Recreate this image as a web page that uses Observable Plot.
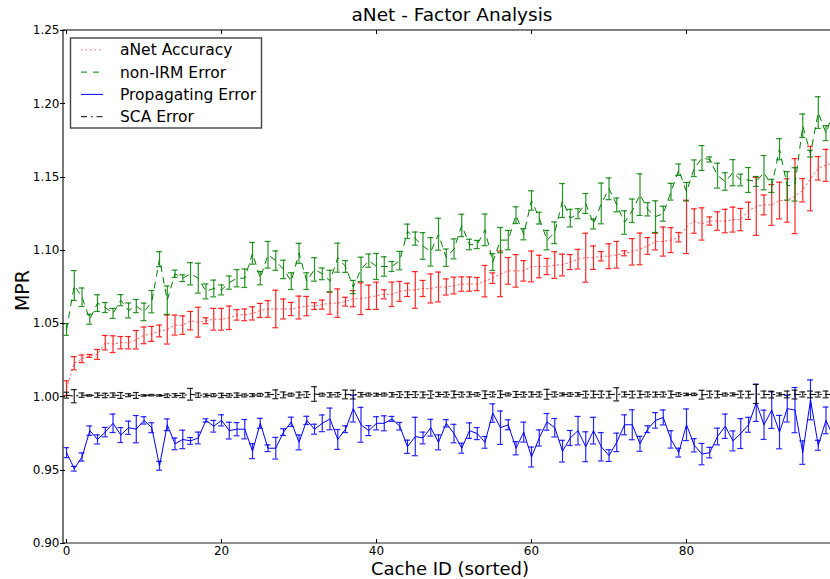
<!DOCTYPE html>
<html>
<head>
<meta charset="utf-8">
<script src="https://cdn.jsdelivr.net/npm/d3@7"></script>
<script src="https://cdn.jsdelivr.net/npm/@observablehq/plot@0.6"></script>
<style>
  html, body { margin: 0; padding: 0; background: white; }
  #chart { width: 830px; height: 579px; }
</style>
</head>
<body>
<div id="chart"></div>
<script>
// ---- data ----
const cacheIds = d3.range(100);

const aNetAccuracy = [1.006,1.023,1.026,1.028,1.029,1.037,1.036,1.037,1.037,1.039,
  1.042,1.043,1.045,1.046,1.049,1.049,1.052,1.051,1.052,1.053,
  1.053,1.054,1.056,1.056,1.057,1.059,1.060,1.060,1.060,1.060,
  1.061,1.062,1.062,1.063,1.064,1.064,1.065,1.067,1.067,1.068,
  1.069,1.070,1.070,1.072,1.073,1.073,1.074,1.074,1.075,1.075,
  1.076,1.077,1.077,1.077,1.079,1.081,1.084,1.086,1.086,1.086,
  1.089,1.089,1.089,1.090,1.090,1.092,1.094,1.095,1.095,1.096,
  1.096,1.097,1.098,1.099,1.101,1.103,1.106,1.106,1.107,1.109,
  1.116,1.120,1.118,1.120,1.120,1.120,1.121,1.121,1.127,1.130,
  1.131,1.131,1.134,1.134,1.137,1.141,1.149,1.156,1.158,1.160];
const aNetErr = [0.005,0.0045,0.0026,0.001,0.0034,0.0049,0.0057,0.0042,0.0042,0.0063,
  0.0057,0.0051,0.004,0.0099,0.0068,0.0063,0.0063,0.0102,0.002,0.0074,
  0.0074,0.008,0.0036,0.004,0.0045,0.0048,0.0057,0.0128,0.0068,0.0045,
  0.0078,0.0066,0.0023,0.0031,0.0076,0.0097,0.003,0.0055,0.0108,0.0083,
  0.0093,0.0031,0.0083,0.0068,0.0045,0.0125,0.0055,0.0099,0.0102,0.0055,
  0.0057,0.0049,0.0049,0.0045,0.0107,0.0036,0.0156,0.0091,0.0111,0.007,
  0.0105,0.0077,0.0055,0.0091,0.0074,0.0051,0.0067,0.0167,0.008,0.0032,
  0.0085,0.0091,0.0017,0.009,0.0108,0.0057,0.0057,0.0099,0.0085,0.0032,
  0.0182,0.0083,0.011,0.0028,0.0063,0.008,0.0085,0.0076,0.0059,0.0198,
  0.0068,0.0139,0.0125,0.0148,0.0256,0.008,0.022,0.008,0.0109,0.008];

const nonIrmError = [1.046,1.076,1.068,1.053,1.064,1.061,1.057,1.066,1.059,1.062,
  1.058,1.065,1.094,1.066,1.084,1.081,1.084,1.081,1.072,1.074,
  1.073,1.078,1.081,1.081,1.098,1.081,1.097,1.093,1.087,1.079,
  1.098,1.079,1.087,1.084,1.079,1.095,1.089,1.075,1.087,1.093,
  1.089,1.089,1.089,1.093,1.113,1.108,1.103,1.099,1.111,1.095,
  1.101,1.117,1.104,1.104,1.114,1.092,1.107,1.107,1.124,1.111,
  1.134,1.122,1.107,1.112,1.134,1.122,1.125,1.132,1.118,1.132,
  1.142,1.131,1.119,1.127,1.138,1.128,1.123,1.125,1.140,1.155,
  1.140,1.156,1.163,1.162,1.151,1.147,1.153,1.148,1.148,1.147,
  1.153,1.144,1.169,1.144,1.145,1.185,1.166,1.194,1.180,1.195];
const nonIrmErr = [0.004,0.0102,0.0063,0.0034,0.0057,0.0034,0.0034,0.0038,0.0051,0.0045,
  0.006,0.0076,0.0051,0.0097,0.0025,0.0023,0.0076,0.0102,0.0051,0.0057,
  0.0034,0.0045,0.0059,0.0063,0.0074,0.0045,0.0091,0.0066,0.0063,0.0057,
  0.0068,0.0057,0.008,0.004,0.0074,0.0099,0.004,0.0045,0.0083,0.0045,
  0.0089,0.0066,0.0034,0.0063,0.0049,0.0045,0.0091,0.0097,0.0109,0.0059,
  0.0068,0.0076,0.0036,0.0028,0.0108,0.0057,0.0086,0.0066,0.0057,0.0038,
  0.0066,0.004,0.0066,0.0074,0.0116,0.006,0.0034,0.0068,0.0034,0.0139,
  0.0074,0.0047,0.008,0.008,0.0142,0.0045,0.0108,0.0051,0.0057,0.0039,
  0.0063,0.0057,0.0085,0.0017,0.0085,0.006,0.0089,0.004,0.0085,0.0034,
  0.0117,0.0045,0.0072,0.0097,0.0114,0.008,0.0023,0.0108,0.0051,0.008];

const propagatingError = [0.962,0.951,0.959,0.977,0.971,0.976,0.982,0.974,0.979,0.978,
  0.984,0.979,0.953,0.981,0.968,0.971,0.970,0.972,0.984,0.980,
  0.984,0.977,0.978,0.978,0.963,0.982,0.965,0.965,0.976,0.983,
  0.969,0.984,0.978,0.982,0.985,0.971,0.978,0.992,0.981,0.977,
  0.982,0.982,0.985,0.980,0.966,0.973,0.972,0.979,0.969,0.982,
  0.975,0.965,0.977,0.975,0.969,0.989,0.979,0.981,0.965,0.976,
  0.959,0.972,0.983,0.979,0.963,0.972,0.977,0.966,0.977,0.966,
  0.960,0.969,0.981,0.981,0.968,0.978,0.984,0.986,0.971,0.962,
  0.981,0.967,0.961,0.962,0.973,0.980,0.970,0.975,0.981,0.996,
  0.981,0.991,0.976,0.992,0.991,0.962,0.998,0.967,0.984,0.972];
const propagatingErr = [0.0034,0.0016,0.0028,0.0032,0.0031,0.0032,0.0063,0.0051,0.0045,0.0093,
  0.0025,0.0034,0.003,0.004,0.004,0.0063,0.0023,0.004,0.0011,0.004,
  0.0038,0.0057,0.0045,0.0066,0.0051,0.0034,0.0023,0.0074,0.0023,0.0032,
  0.0051,0.0028,0.0034,0.0057,0.0074,0.0068,0.0023,0.0091,0.0119,0.0034,
  0.0045,0.0051,0.0017,0.0026,0.0045,0.0131,0.004,0.0057,0.0051,0.0025,
  0.0063,0.0034,0.0053,0.0041,0.004,0.0063,0.0114,0.0034,0.0045,0.0068,
  0.0068,0.0055,0.0057,0.0063,0.0074,0.0051,0.0097,0.0102,0.0091,0.0097,
  0.004,0.0063,0.0068,0.0102,0.0051,0.0023,0.0053,0.0051,0.0059,0.003,
  0.0108,0.0045,0.0073,0.0036,0.0057,0.0083,0.0068,0.0102,0.0051,0.0127,
  0.01,0.0125,0.0114,0.0091,0.0154,0.008,0.0136,0.0034,0.0091,0.006];

const scaError = [1.0012,1.0005,1.0012,1.0010,1.0012,1.0010,1.0012,1.0010,1.0012,1.0010,
  1.0010,1.0012,1.0010,1.0008,1.0010,1.0010,1.0018,1.0012,1.0010,1.0012,
  1.0010,1.0010,1.0012,1.0010,1.0012,1.0014,1.0015,1.0018,1.0014,1.0015,
  1.0013,1.0016,1.0020,1.0015,1.0014,1.0015,1.0017,1.0016,1.0015,1.0016,
  1.0015,1.0016,1.0015,1.0016,1.0015,1.0016,1.0014,1.0016,1.0017,1.0016,
  1.0017,1.0016,1.0017,1.0017,1.0015,1.0017,1.0018,1.0017,1.0017,1.0016,
  1.0017,1.0017,1.0018,1.0017,1.0017,1.0016,1.0017,1.0016,1.0017,1.0017,
  1.0016,1.0018,1.0017,1.0016,1.0017,1.0017,1.0016,1.0017,1.0017,1.0016,
  1.0017,1.0017,1.0015,1.0017,1.0017,1.0016,1.0017,1.0017,1.0016,1.0020,
  1.0017,1.0016,1.0017,1.0017,1.0016,1.0017,1.0017,1.0016,1.0017,1.0017];
const scaErr = [0.002,0.0045,0.0015,0.0005,0.0015,0.0015,0.0015,0.002,0.001,0.002,
  0.0005,0.0005,0.0005,0.0012,0.0012,0.0015,0.004,0.0015,0.001,0.001,
  0.0015,0.0012,0.0015,0.001,0.001,0.001,0.0015,0.003,0.002,0.001,
  0.002,0.002,0.005,0.001,0.0015,0.0015,0.003,0.003,0.0015,0.001,
  0.001,0.001,0.0015,0.002,0.002,0.002,0.002,0.0025,0.0015,0.0017,
  0.0023,0.0017,0.0017,0.0012,0.0026,0.0017,0.0023,0.001,0.002,0.0017,
  0.0017,0.0017,0.0034,0.0017,0.001,0.0012,0.0012,0.0023,0.0023,0.0023,
  0.0023,0.0045,0.0017,0.0023,0.0023,0.0017,0.0017,0.0017,0.0023,0.0012,
  0.0008,0.0008,0.003,0.0023,0.0023,0.001,0.001,0.0023,0.0023,0.0065,
  0.0023,0.0023,0.001,0.0023,0.003,0.0017,0.0023,0.0017,0.0023,0.002];

const xTicks = [0, 20, 40, 60, 80];
const yTicks = [0.90, 0.95, 1.00, 1.05, 1.10, 1.15, 1.20, 1.25];
const xDomain = [-0.39, 98.58];
const yDomain = [0.90, 1.25];

const seriesNames = ["aNet Accuracy", "non-IRM Error", "Propagating Error", "SCA Error"];
const seriesColors = ["#ff0000", "#008000", "#0000ff", "#000000"];
const seriesDash = ["1.5,3", "6,6", null, "6,4,1.5,4"];

// ---- build rows ----
const mk = (vals, errs) => cacheIds.map(i => ({x: i, y: vals[i], e: errs[i]}));
const series = [
  mk(aNetAccuracy, aNetErr),
  mk(nonIrmError, nonIrmErr),
  mk(propagatingError, propagatingErr),
  mk(scaError, scaErr)
];

const capHalf = 0.38;
const marks = [];
series.forEach((rows, k) => {
  const color = seriesColors[k];
  marks.push(Plot.line(rows, {x: "x", y: "y", stroke: color, strokeWidth: 1,
    strokeOpacity: k === 0 ? 0.6 : 1,
    strokeDasharray: seriesDash[k] || undefined, clip: true}));
  marks.push(Plot.ruleX(rows, {x: "x", y1: d => d.y - d.e, y2: d => d.y + d.e,
    stroke: color, strokeWidth: 1.2, strokeOpacity: 0.85, clip: true}));
  marks.push(Plot.ruleY(rows, {y: d => d.y + d.e, x1: d => d.x - capHalf, x2: d => d.x + capHalf,
    stroke: color, strokeWidth: 1.2, strokeOpacity: 0.85, clip: true}));
  marks.push(Plot.ruleY(rows, {y: d => d.y - d.e, x1: d => d.x - capHalf, x2: d => d.x + capHalf,
    stroke: color, strokeWidth: 1.2, strokeOpacity: 0.85, clip: true}));
});

const chart = Plot.plot({
  width: 830,
  height: 579,
  marginLeft: 63,
  marginRight: 0,
  marginTop: 30,
  marginBottom: 36,
  style: {fontFamily: "DejaVu Sans", fontSize: "12px", background: "white", color: "black"},
  x: {domain: xDomain, ticks: xTicks, tickSize: 0, tickPadding: 3, label: null, tickFormat: d3.format("d")},
  y: {domain: yDomain, ticks: yTicks, tickSize: 0, tickPadding: 4, label: null, tickFormat: d3.format(".2f")},
  marks
});

document.getElementById("chart").appendChild(chart);

// ---- frame, ticks, titles, legend ----
const svg = d3.select(chart);
const sx = chart.scale("x"), sy = chart.scale("y");
const L = sx.apply(xDomain[0]), R = 830;
const T = sy.apply(yDomain[1]), B = sy.apply(yDomain[0]);
const g = svg.append("g").attr("fill", "none");
g.append("path").attr("d", `M${R},${T}H${L}V${B}`).attr("stroke", "#555").attr("stroke-width", 1.6);
g.append("path").attr("d", `M${L},${B}H${R}`).attr("stroke", "#222").attr("stroke-width", 1.2);
xTicks.forEach(t => {
  const px = Math.round(sx.apply(t)) + 0.5;
  g.append("line").attr("x1", px).attr("x2", px).attr("y1", B).attr("y2", B - 4).attr("stroke", "black");
  g.append("line").attr("x1", px).attr("x2", px).attr("y1", T).attr("y2", T + 4).attr("stroke", "black");
});
yTicks.forEach(t => {
  const py = Math.round(sy.apply(t)) + 0.5;
  g.append("line").attr("x1", L - 3).attr("x2", L + 2).attr("y1", py).attr("y2", py).attr("stroke", "black");
});

const font = "DejaVu Sans";
const midX = 450;
svg.append("text").attr("x", midX + 2).attr("y", 21).attr("text-anchor", "middle")
  .attr("font-family", font).attr("font-size", 18.5).attr("fill", "black").text("aNet - Factor Analysis");
svg.append("text").attr("x", midX).attr("y", 574.5).attr("text-anchor", "middle")
  .attr("font-family", font).attr("font-size", 18).attr("fill", "black").text("Cache ID (sorted)");
svg.append("text").attr("transform", `translate(29,${(T + B) / 2 + 4}) rotate(-90)`).attr("text-anchor", "middle")
  .attr("font-family", font).attr("font-size", 19).attr("fill", "black").text("MPR");

const lg = svg.append("g");
lg.append("rect").attr("x", 70.5).attr("y", 38).attr("width", 191).attr("height", 90)
  .attr("fill", "white").attr("stroke", "#444").attr("stroke-width", 1.4);
seriesNames.forEach((name, k) => {
  const yy = 49.8 + k * 22.3;
  const ln = lg.append("line").attr("x1", 81).attr("x2", 103).attr("y1", yy).attr("y2", yy)
    .attr("stroke", seriesColors[k]).attr("stroke-width", 1)
    .attr("stroke-opacity", k === 0 ? 0.6 : 1);
  if (seriesDash[k]) ln.attr("stroke-dasharray", seriesDash[k]);
  lg.append("text").attr("x", 120).attr("y", yy + 5.5).attr("text-anchor", "start").attr("font-family", font)
    .attr("font-size", 15.5).attr("fill", "black").text(name);
});
</script>
</body>
</html>
